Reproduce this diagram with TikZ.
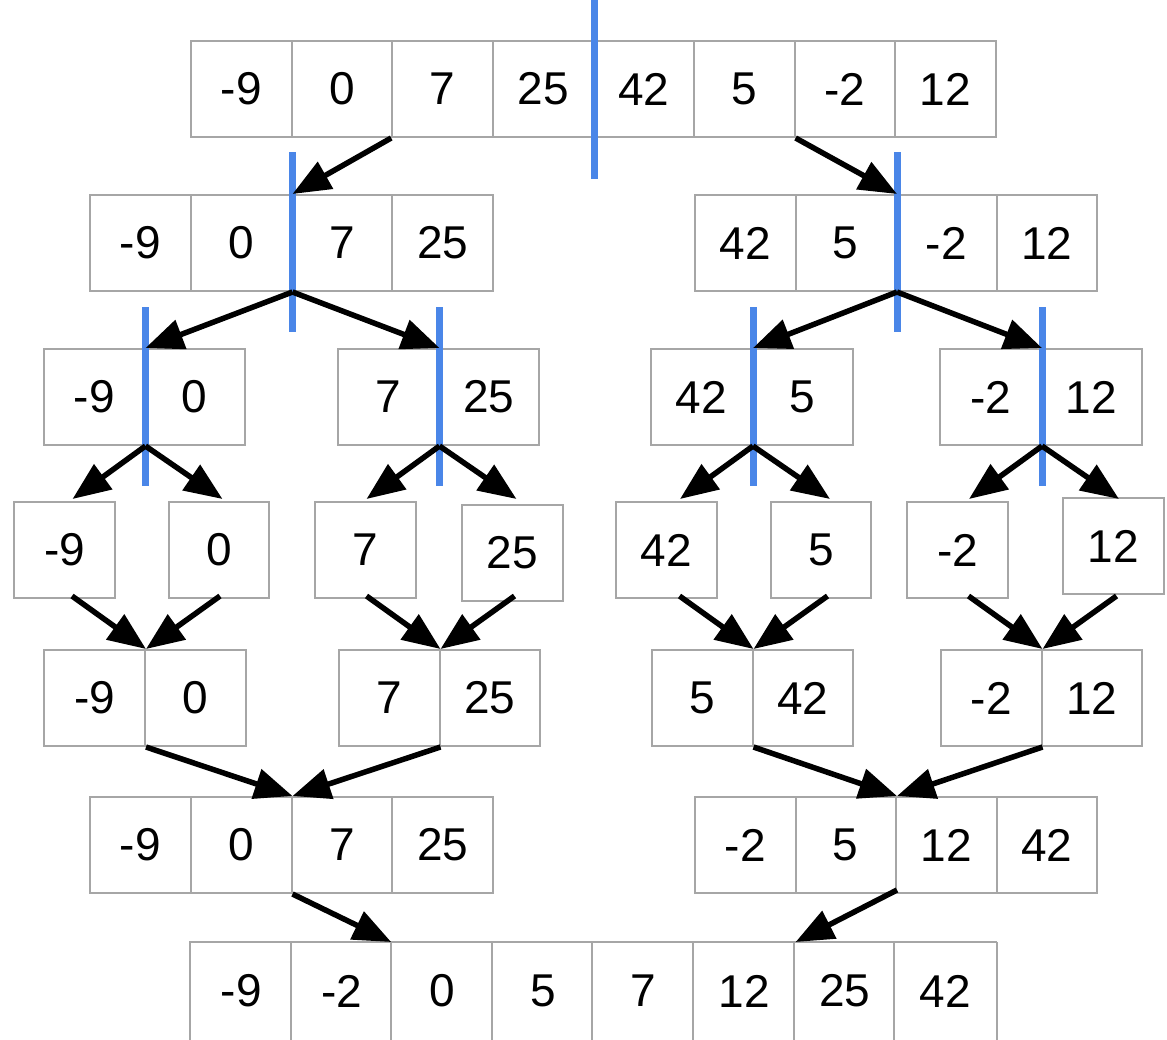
\documentclass[tikz,border=0pt]{standalone}
\usepackage{fontspec}
\setmainfont{Liberation Sans}
\usetikzlibrary{arrows.meta,calc}
\definecolor{cellgray}{RGB}{166,166,166}
\definecolor{splitblue}{RGB}{74,134,232}
\tikzset{
 cell/.style={draw=cellgray, line width=2pt, minimum height=96pt, inner sep=0pt,
   font=\fontsize{46pt}{46pt}\selectfont, text=black},
 opencell/.style={cell, draw=none},
 border/.style={draw=cellgray, line width=2pt},
 split/.style={draw=splitblue, line width=7pt},
 move/.style={draw=black, line width=5.5pt, -{Triangle[length=38pt,width=30pt]}},
}
\newcommand\cellrow[5]{\foreach \v [count=\i] in {#5}{\node[cell, minimum width=#4pt] (#1-\i) at ({#2+(\i-0.5)*#4}, #3) {\v};}}
\begin{document}
\begin{tikzpicture}[x=1pt,y=-1pt]
\useasboundingbox[fill=white] (0,0) rectangle (1167,1039);
\clip (0,0) rectangle (1167,1039);
% row 1
\cellrow{r1}{191}{89}{100.6}{-9,0,7,25,42,5,-2,12}
% row 2
\cellrow{r2a}{90}{243}{100.75}{-9,0,7,25}
\cellrow{r2b}{695}{243}{100.5}{42,5,-2,12}
% row 3
\cellrow{r3a}{44}{397}{100.5}{-9,0}
\cellrow{r3b}{338}{397}{100.5}{7,25}
\cellrow{r3c}{651}{397}{101}{42,5}
\cellrow{r3d}{940}{397}{101}{-2,12}
% row 4 singles
\node[cell, minimum width=101pt] (s1) at (64.5,550) {-9};
\node[cell, minimum width=100pt] (s2) at (219,550) {0};
\node[cell, minimum width=101pt] (s3) at (365.5,550) {7};
\node[cell, minimum width=101pt] (s4) at (512.5,553) {25};
\node[cell, minimum width=101pt] (s5) at (666.5,550) {42};
\node[cell, minimum width=100pt] (s6) at (821,550) {5};
\node[cell, minimum width=101pt] (s7) at (957.5,550) {-2};
\node[cell, minimum width=101pt] (s8) at (1113.5,546) {12};
% row 5
\cellrow{r5a}{44}{698}{101}{-9,0}
\cellrow{r5b}{339}{698}{100.5}{7,25}
\cellrow{r5c}{652}{698}{100.5}{5,42}
\cellrow{r5d}{941}{698}{100.5}{-2,12}
% row 6
\cellrow{r6a}{90}{845}{100.75}{-9,0,7,25}
\cellrow{r6b}{695}{845}{100.5}{-2,5,12,42}
% row 7 (cut off by the lower edge)
\foreach \v [count=\i] in {-9,-2,0,5,7,12,25,42}{
  \node[opencell, minimum width=100.6pt] (r7-\i) at ({191+(\i-0.5)*100.6}, 991) {\v};
  \draw[border] ($(r7-\i.south west)+(0,20)$) -- (r7-\i.north west) -- (r7-\i.north east);
}
\draw[border] (r7-8.north east) -- ($(r7-8.south east)+(0,20)$);
% split lines
\draw[split] ($(r1-4.north east)+(0,-42)$) -- ($(r1-4.south east)+(0,41)$);
\draw[split] ($(r2a-2.north east)+(0,-42)$) -- ($(r2a-2.south east)+(0,40)$);
\draw[split] ($(r2b-2.north east)+(0,-42)$) -- ($(r2b-2.south east)+(0,40)$);
\foreach \p in {r3a,r3b,r3c,r3d}{
  \draw[split] ($(\p-1.north east)+(0,-41)$) -- ($(\p-1.south east)+(0,40)$);
}
% split arrows
\draw[move] (r1-3.south west) -- (r2a-2.north east);
\draw[move] (r1-6.south east) -- (r2b-2.north east);
\draw[move] (r2a-2.south east) -- (r3a-1.north east);
\draw[move] (r2a-2.south east) -- (r3b-1.north east);
\draw[move] (r2b-2.south east) -- (r3c-1.north east);
\draw[move] (r2b-2.south east) -- (r3d-1.north east);
\foreach \p in {r3a,r3b,r3c,r3d}{
  \coordinate (\p-l) at ($(\p-1.south east)+(-73,53)$);
  \coordinate (\p-r) at ($(\p-1.south east)+(77,53)$);
  \draw[move] (\p-1.south east) -- (\p-l);
  \draw[move] (\p-1.south east) -- (\p-r);
}
% merge arrows
\foreach \p in {r5a,r5b,r5c,r5d}{
  \coordinate (\p-l) at ($(\p-1.north east)+(-74,-53)$);
  \coordinate (\p-r) at ($(\p-1.north east)+(74,-53)$);
  \draw[move] (\p-l) -- (\p-1.north east);
  \draw[move] (\p-r) -- (\p-1.north east);
}
\draw[move] (r5a-1.south east) -- (r6a-2.north east);
\draw[move] (r5b-1.south east) -- (r6a-2.north east);
\draw[move] (r5c-1.south east) -- (r6b-2.north east);
\draw[move] (r5d-1.south east) -- (r6b-2.north east);
\draw[move] (r6a-2.south east) -- (r7-3.north west);
\draw[move] ($(r6b-2.south east)+(0,-4)$) -- (r7-6.north east);
\end{tikzpicture}
\end{document}
